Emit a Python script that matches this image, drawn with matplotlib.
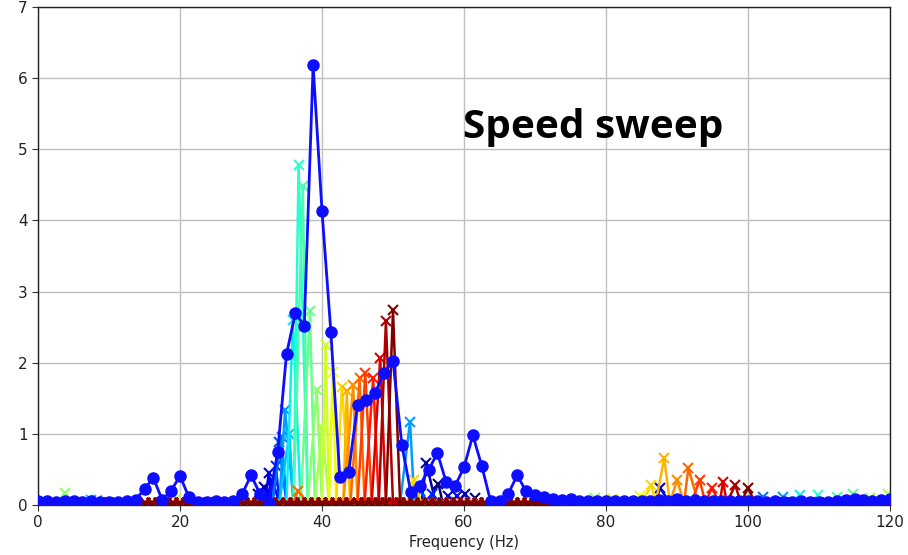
import numpy as np
import matplotlib
matplotlib.use("Agg")
import matplotlib.pyplot as plt

# ---------------- data ----------------
# blue reference spectrum (frequency bins of 1.25 Hz from 0 to 120 Hz)
blue_freq = np.arange(0, 120.001, 1.25)
blue_amp = [
    0.05, 0.05, 0.04, 0.05, 0.06, 0.04, 0.05, 0.04, 0.04, 0.04,
    0.05, 0.07, 0.23, 0.38, 0.07, 0.20, 0.41, 0.11, 0.04, 0.04,
    0.05, 0.04, 0.06, 0.15, 0.42, 0.16, 0.03, 0.74, 2.12, 2.70,
    2.52, 6.18, 4.13, 2.43, 0.40, 0.46, 1.41, 1.48, 1.58, 1.86,
    2.03, 0.84, 0.18, 0.27, 0.49, 0.73, 0.32, 0.27, 0.53, 0.98,
    0.55, 0.05, 0.05, 0.16, 0.42, 0.19, 0.14, 0.11, 0.09, 0.07,
    0.09, 0.06, 0.05, 0.06, 0.05, 0.05, 0.05, 0.05, 0.05, 0.06,
    0.07, 0.06, 0.08, 0.06, 0.07, 0.06, 0.06, 0.05, 0.06, 0.05,
    0.06, 0.05, 0.04, 0.05, 0.04, 0.04, 0.05, 0.04, 0.04, 0.04,
    0.05, 0.07, 0.09, 0.07, 0.06, 0.07, 0.08,
]

# speed-sweep spectra: peaks (frequency Hz, amplitude) of each sweep step
sweep_peaks = [
    [(31.0, 0.15), (56.4, 0.30), (61.5, 0.10)],
    [(31.8, 0.25), (54.7, 0.59), (60.1, 0.15)],
    [(32.5, 0.45), (57.8, 0.12), (87.6, 0.24)],
    [(33.0, 0.35), (59.0, 0.12)],
    [(33.5, 0.55), (55.5, 0.15)],
    [(33.9, 0.89), (53.8, 0.20)],
    [(34.3, 0.95), (102.1, 0.11)],
    [(34.8, 1.34), (52.4, 1.17), (104.9, 0.11)],
    [(35.4, 1.00), (7.5, 0.07)],
    [(35.9, 2.60), (107.3, 0.14), (8.3, 0.07)],
    [(36.7, 4.78), (109.9, 0.14)],
    [(37.3, 4.48), (112.5, 0.11)],
    [(38.3, 2.72), (114.8, 0.15)],
    [(39.25, 1.62), (3.8, 0.17), (78.5, 0.10), (117.2, 0.10)],
    [(40.0, 1.10), (19.5, 0.09), (119.7, 0.16)],
    [(40.5, 2.25), (81.0, 0.08)],
    [(41.5, 1.87), (84.8, 0.12)],
    [(42.8, 1.66), (86.4, 0.28), (52.9, 0.35)],
    [(43.5, 1.60), (88.2, 0.66)],
    [(44.4, 1.68), (90.0, 0.35)],
    [(45.3, 1.78), (91.6, 0.52), (36.6, 0.20)],
    [(46.1, 1.85), (93.2, 0.35)],
    [(47.2, 1.78), (94.9, 0.24)],
    [(48.2, 2.07), (96.5, 0.33)],
    [(49.0, 2.58), (98.2, 0.28)],
    [(50.0, 2.74), (100.0, 0.24)],
]
sweep_floor = 0.03          # noise floor of the sweep spectra
sweep_bin = 1.0             # bin width of the sweep spectra (Hz)

x_ticks = [0, 20, 40, 60, 80, 100, 120]
y_ticks = [0, 1, 2, 3, 4, 5, 6, 7]
title_text = "Speed sweep"

# ---------------- figure ----------------
W, H, DPI = 908, 555, 100
fig = plt.figure(figsize=(W / DPI, H / DPI), dpi=DPI)
ax = fig.add_axes([38 / W, 1 - 505 / H, (890 - 38) / W, (505 - 7) / H])

cmap = plt.get_cmap("jet")
n = len(sweep_peaks)
grid = np.arange(0, 120.001, sweep_bin)
for i, peaks in enumerate(sweep_peaks):
    pf = np.array([p[0] for p in peaks])
    pa = np.array([p[1] for p in peaks])
    keep = np.array([np.all(np.abs(g - pf) > 0.45 * sweep_bin) for g in grid])
    xs = np.concatenate([grid[keep], pf])
    ys = np.concatenate([np.full(keep.sum(), sweep_floor), pa])
    order = np.argsort(xs)
    ax.plot(xs[order], ys[order], color=cmap(i / (n - 1)), marker="x",
            markersize=7, markeredgewidth=1.5, linewidth=1.8, zorder=2)

ax.plot(blue_freq, blue_amp, color=(0.05, 0.05, 1.0), marker="o",
        markersize=8, linewidth=2.0, zorder=3)

ax.set_xlim(0, 120)
ax.set_ylim(0, 7)
ax.set_xticks(x_ticks)
ax.set_yticks(y_ticks)
ax.grid(True, color="#c0c0c0", linewidth=1.0)
ax.set_axisbelow(True)
ax.tick_params(labelsize=11, length=4, color="#333333", labelcolor="#222222")
for s in ax.spines.values():
    s.set_color("#222222")
    s.set_linewidth(1.0)
ax.set_xlabel("Frequency (Hz)", fontsize=10.5, color="#222222", labelpad=3)

t = ax.text(0.0, 0.0, title_text, fontsize=30, fontweight="bold",
            family="Open Sans", color="black", transform=fig.transFigure)
fig.canvas.draw()
bb = t.get_window_extent()
scale = (723 - 463) / bb.width
t.set_fontsize(30 * scale)
t.set_position(((463) / W, 1 - 147 / H))
t.set_verticalalignment("bottom")

fig.savefig("out.png", dpi=DPI)
